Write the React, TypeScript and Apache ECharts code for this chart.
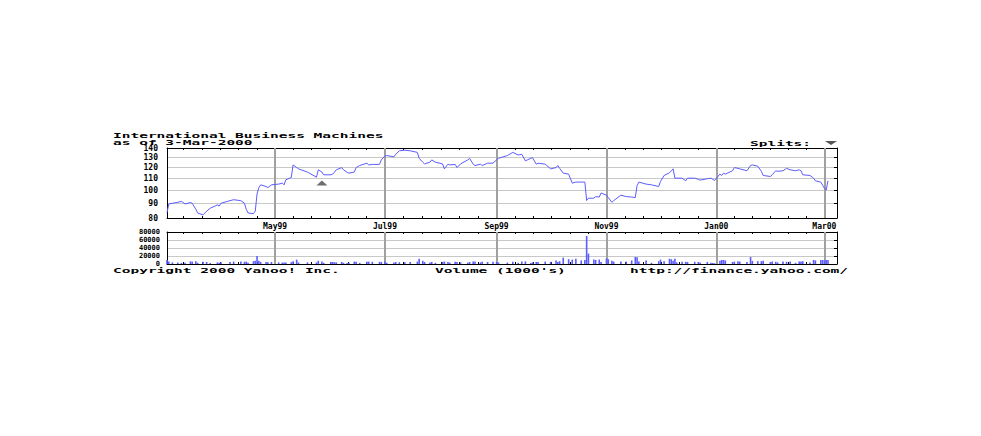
import React, { useEffect, useRef } from 'react';
import * as echarts from 'echarts';

// ---------- data ----------
const dates = [
  '1999-03-02','1999-03-03','1999-03-05','1999-03-08','1999-03-10','1999-03-12','1999-03-15','1999-03-16','1999-03-18','1999-03-19',
  '1999-03-22','1999-03-24','1999-03-26','1999-03-30','1999-03-31','1999-04-01','1999-04-06','1999-04-08','1999-04-12','1999-04-14',
  '1999-04-15','1999-04-16','1999-04-19','1999-04-20','1999-04-21','1999-04-22','1999-04-23','1999-04-26','1999-04-27','1999-04-29',
  '1999-05-03','1999-05-05','1999-05-06','1999-05-07','1999-05-10','1999-05-11','1999-05-13','1999-05-14','1999-05-19','1999-05-24',
  '1999-05-25','1999-05-27','1999-05-28','1999-06-01','1999-06-02','1999-06-03','1999-06-04','1999-06-07','1999-06-08','1999-06-10',
  '1999-06-11','1999-06-14','1999-06-15','1999-06-17','1999-06-21','1999-06-22','1999-06-24','1999-06-28','1999-06-29','1999-07-01',
  '1999-07-02','1999-07-06','1999-07-07','1999-07-09','1999-07-12','1999-07-15','1999-07-19','1999-07-20','1999-07-22','1999-07-23',
  '1999-07-26','1999-07-27','1999-07-29','1999-08-02','1999-08-03','1999-08-05','1999-08-06','1999-08-09','1999-08-10','1999-08-12',
  '1999-08-16','1999-08-17','1999-08-19','1999-08-20','1999-08-23','1999-08-24','1999-08-27','1999-08-30','1999-09-01','1999-09-02',
  '1999-09-07','1999-09-10','1999-09-13','1999-09-15','1999-09-17','1999-09-20','1999-09-21','1999-09-23','1999-09-24','1999-09-28',
  '1999-10-01','1999-10-04','1999-10-05','1999-10-06','1999-10-08','1999-10-11','1999-10-13','1999-10-15','1999-10-18','1999-10-20',
  '1999-10-21','1999-10-22','1999-10-25','1999-10-26','1999-10-28','1999-10-29','1999-11-01','1999-11-02','1999-11-04','1999-11-05',
  '1999-11-09','1999-11-12','1999-11-15','1999-11-17','1999-11-18','1999-11-19','1999-11-23','1999-11-26','1999-11-30','1999-12-01',
  '1999-12-03','1999-12-06','1999-12-07','1999-12-08','1999-12-09','1999-12-10','1999-12-13','1999-12-15','1999-12-16','1999-12-20',
  '1999-12-22','1999-12-23','1999-12-27','1999-12-29','1999-12-30','1999-12-31','2000-01-03','2000-01-04','2000-01-05','2000-01-06',
  '2000-01-10','2000-01-11','2000-01-13','2000-01-14','2000-01-18','2000-01-20','2000-01-21','2000-01-24','2000-01-26','2000-01-27',
  '2000-01-31','2000-02-01','2000-02-03','2000-02-04','2000-02-07','2000-02-09','2000-02-11','2000-02-14','2000-02-16','2000-02-17',
  '2000-02-18','2000-02-22','2000-02-24','2000-02-25','2000-02-28','2000-02-29','2000-03-01','2000-03-02','2000-03-03',
];

const prices = [
  83.5, 89.5, 90.0, 90.7, 91.4, 89.5, 90.5, 90.0, 85.8, 83.3,
  82.0, 84.5, 86.5, 88.8, 88.0, 90.0, 91.9, 92.6, 91.9, 90.0,
  85.8, 83.3, 82.8, 84.5, 97.0, 102.0, 104.3, 102.9, 102.0, 104.3,
  104.9, 105.7, 104.3, 108.6, 110.6, 122.3, 119.7, 118.5, 115.5, 110.9,
  117.6, 115.5, 113.0, 113.0, 113.6, 115.5, 117.6, 119.7, 117.6, 115.2,
  114.5, 115.5, 119.7, 121.7, 124.0, 122.3, 122.8, 122.8, 127.3, 131.4,
  131.8, 130.5, 133.1, 136.9, 137.6, 136.9, 135.2, 129.0, 125.0, 123.3,
  125.0, 127.3, 125.0, 123.3, 118.5, 123.0, 122.3, 122.8, 119.7, 123.3,
  127.3, 128.9, 123.0, 121.7, 123.0, 121.7, 124.0, 124.0, 127.3, 128.9,
  131.8, 135.2, 132.4, 133.1, 126.3, 129.0, 129.5, 123.0, 124.0, 123.0,
  118.5, 119.7, 121.7, 119.0, 114.5, 113.6, 105.7, 106.6, 106.6, 106.6,
  92.0, 93.7, 93.7, 94.9, 94.6, 97.7, 96.0, 94.2, 90.7, 91.9,
  96.0, 94.9, 94.6, 94.2, 103.7, 106.6, 104.9, 104.3, 102.9, 107.1,
  112.4, 114.8, 116.7, 118.5, 110.0, 110.0, 110.0, 107.7, 110.0, 110.0,
  109.0, 108.3, 109.5, 110.0, 109.0, 108.0, 113.6, 112.4, 114.5, 113.6,
  116.7, 119.7, 119.0, 118.5, 116.7, 121.7, 122.3, 121.0, 116.2, 112.4,
  111.5, 113.0, 116.7, 116.2, 116.7, 119.0, 117.6, 116.7, 117.6, 116.7,
  113.0, 112.4, 110.0, 107.7, 106.6, 104.0, 101.4, 100.0, 107.7,
];

const volumes = [
  10000, 6000, 4000, 4000, 3000, 3000, 6500, 6000, 7000, 3000,
  5500, 5000, 2500, 4000, 3000, 4500, 5000, 6000, 6000, 5500,
  6000, 3000, 7000, 8000, 20000, 8000, 5000, 5000, 4500, 5000,
  4000, 3500, 4000, 4000, 4500, 7000, 11000, 4000, 4000, 4000,
  8000, 6000, 3000, 5000, 5000, 4500, 4000, 5000, 3000, 2500,
  3000, 6000, 5500, 3000, 5500, 6000, 5500, 5500, 5000, 6000,
  3000, 4000, 5000, 4500, 4500, 5000, 6000, 13000, 8000, 5000,
  4000, 5000, 3000, 5500, 6000, 5000, 3500, 5500, 5000, 4000,
  3500, 5000, 6500, 6000, 4000, 5500, 5000, 5500, 5000, 4000,
  3500, 5500, 3000, 6500, 6500, 2500, 4000, 5000, 5000, 6000,
  5500, 9000, 5000, 7000, 16000, 12000, 11000, 13000, 9000, 10000,
  70000, 26000, 11000, 10000, 11000, 5000, 14000, 12000, 8000, 6000,
  6500, 6000, 9000, 17500, 17000, 6000, 9000, 3000, 7000, 11000,
  7000, 13000, 12000, 8000, 13000, 4000, 5500, 5500, 5000, 5500,
  5000, 4000, 5000, 3000, 2500, 2000, 8000, 10000, 10000, 9000,
  5000, 6000, 7000, 6000, 5000, 17500, 8000, 7000, 7000, 8000,
  5000, 6000, 5500, 4000, 6000, 5500, 6000, 3000, 6500, 6000,
  7000, 4000, 10000, 9000, 10000, 10000, 9000, 10000, 10000,
];

const monthDates = ['1999-05-01', '1999-07-01', '1999-09-01', '1999-11-01', '2000-01-01', '2000-03-01'];
const monthLabels = ['May99', 'Jul99', 'Sep99', 'Nov99', 'Jan00', 'Mar00'];
const tickAnchorDates = ['1999-03-01', ...monthDates, '2000-05-01'];
const priceTicks = [80, 90, 100, 110, 120, 130, 140];
const volumeTicks = [0, 20000, 40000, 60000, 80000];
const splitDates = ['1999-05-27'];

const X_START = '1999-03-02';
const X_SPAN_DAYS = 372;

const titleText = 'International Business Machines';
const asOfText = 'as of 3-Mar-2000';
const splitsText = 'Splits:';
const copyrightText = 'Copyright 2000 Yahoo! Inc.';
const volumeText = "Volume (1000's)";
const urlText = 'http://finance.yahoo.com/';

// ---------- helpers ----------
const DAY = 86400000;
const ts = (s: string) => Date.parse(s + 'T00:00:00Z');
const LINE = '#5c5cff';
const FONT = 'DejaVu Sans Mono';

const txt = (text: string, x: number, y: number) => ({
  type: 'text',
  x,
  y,
  scaleY: 0.5,
  silent: true,
  style: {
    text,
    fill: '#000',
    fontFamily: FONT,
    fontSize: 14.5,
    fontWeight: 'bold',
    align: 'left',
    verticalAlign: 'middle',
  },
});

export default function App() {
  const ref = useRef<HTMLDivElement>(null);

  useEffect(() => {
    if (!ref.current) return;
    const chart = echarts.init(ref.current, null, { renderer: 'svg' });

    const xMin = ts(X_START);
    const xMax = xMin + X_SPAN_DAYS * DAY;
    const majors = monthDates.map(ts);
    const anchors = tickAnchorDates.map(ts);
    const minor: number[] = [];
    for (let i = 0; i < anchors.length - 1; i++) {
      for (let k = 1; k < 6; k++) {
        const v = anchors[i] + ((anchors[i + 1] - anchors[i]) * k) / 6;
        if (v > xMin && v < xMax) minor.push(v);
      }
    }
    const monthFmt = (v: number) => {
      const i = majors.indexOf(v);
      return i >= 0 ? monthLabels[i] : '';
    };

    const priceData = dates.map((d, i) => [ts(d), prices[i]]);
    const volData = dates.map((d, i) => [ts(d), volumes[i]]);
    const splitPoints = splitDates.map((s) => {
      const i = dates.indexOf(s);
      return { coord: [ts(s), prices[i]] };
    });

    const labelStyle = (size: number) => ({
      color: '#000',
      fontFamily: FONT,
      fontSize: size,
      fontWeight: 'bold',
      lineHeight: size,
      hideOverlap: false,
      showMinLabel: true,
      showMaxLabel: true,
    });
    const blackLine = { show: true, onZero: false, lineStyle: { color: '#000', width: 1 } };

    const xAxis = (gridIndex: number, position: string, labels: boolean) => ({
      type: 'value',
      gridIndex,
      position,
      min: xMin,
      max: xMax,
      axisLine: blackLine,
      axisTick: { show: true, inside: true, length: 2, customValues: minor, lineStyle: { color: '#000', width: 1 } },
      axisLabel: labels
        ? { show: true, customValues: majors, formatter: monthFmt, margin: 4, ...labelStyle(8) }
        : { show: false },
      splitLine: { show: false },
    });

    const monthLines = {
      silent: true,
      z: 1,
      symbol: ['none', 'none'],
      label: { show: false },
      lineStyle: { color: '#a0a0a0', width: 2, type: 'solid' },
      emphasis: { disabled: true },
      data: majors.map((t) => ({ xAxis: t })),
    };

    chart.setOption({
      animation: false,
      backgroundColor: '#fff',
      grid: [
        { left: 167, top: 148, width: 670, height: 70, outerBoundsMode: 'none' },
        { left: 167, top: 232, width: 670, height: 32, outerBoundsMode: 'none' },
      ],
      xAxis: [
        xAxis(0, 'bottom', true),
        xAxis(0, 'top', false),
        xAxis(1, 'bottom', false),
        xAxis(1, 'top', false),
      ],
      yAxis: [
        {
          type: 'log',
          logBase: 10,
          gridIndex: 0,
          position: 'left',
          min: 80,
          max: 140,
          axisLine: blackLine,
          axisTick: { show: false, customValues: priceTicks },
          axisLabel: { customValues: priceTicks, margin: 9, formatter: (v: number) => String(Math.round(v)), ...labelStyle(8) },
          splitLine: { show: true, lineStyle: { color: '#c8c8c8', width: 1 } },
        },
        {
          type: 'log',
          logBase: 10,
          gridIndex: 0,
          position: 'right',
          min: 80,
          max: 140,
          axisLine: blackLine,
          axisTick: { show: true, inside: true, length: 3, customValues: priceTicks, lineStyle: { color: '#000' } },
          axisLabel: { show: false },
          splitLine: { show: false },
        },
        {
          type: 'value',
          gridIndex: 1,
          position: 'left',
          min: 0,
          max: 80000,
          interval: 20000,
          axisLine: blackLine,
          axisTick: { show: false, customValues: volumeTicks },
          axisLabel: { customValues: volumeTicks, margin: 7, formatter: (v: number) => String(v), ...labelStyle(7) },
          splitLine: { show: true, lineStyle: { color: '#c8c8c8', width: 1 } },
        },
        {
          type: 'value',
          gridIndex: 1,
          position: 'right',
          min: 0,
          max: 80000,
          interval: 20000,
          axisLine: blackLine,
          axisTick: { show: true, inside: true, length: 3, customValues: volumeTicks, lineStyle: { color: '#000' } },
          axisLabel: { show: false },
          splitLine: { show: false },
        },
      ],
      series: [
        {
          type: 'line',
          name: 'Price',
          xAxisIndex: 0,
          yAxisIndex: 0,
          data: priceData,
          showSymbol: false,
          symbol: 'none',
          z: 3,
          lineStyle: { color: LINE, width: 1 },
          markLine: monthLines,
          markPoint: {
            silent: true,
            symbol: 'triangle',
            symbolSize: [11, 5],
            symbolOffset: [0, 11],
            itemStyle: { color: '#6e6e6e' },
            label: { show: false },
            data: splitPoints,
          },
        },
        {
          type: 'bar',
          name: 'Volume',
          xAxisIndex: 2,
          yAxisIndex: 2,
          data: volData,
          barWidth: 1.6,
          z: 3,
          itemStyle: { color: LINE },
          markLine: monthLines,
        },
      ],
      graphic: [
        txt(titleText, 113, 135),
        txt(asOfText, 113, 142),
        txt(splitsText, 750, 143),
        {
          type: 'polygon',
          silent: true,
          shape: { points: [[825, 141], [837, 141], [831, 145]] },
          style: { fill: '#555' },
        },
        txt(copyrightText, 113, 270),
        txt(volumeText, 435, 270),
        txt(urlText, 630, 270),
      ],
    });

    return () => chart.dispose();
  }, []);

  return <div ref={ref} style={{ position: 'absolute', left: 0, top: 0, width: 981, height: 436 }} />;
}
